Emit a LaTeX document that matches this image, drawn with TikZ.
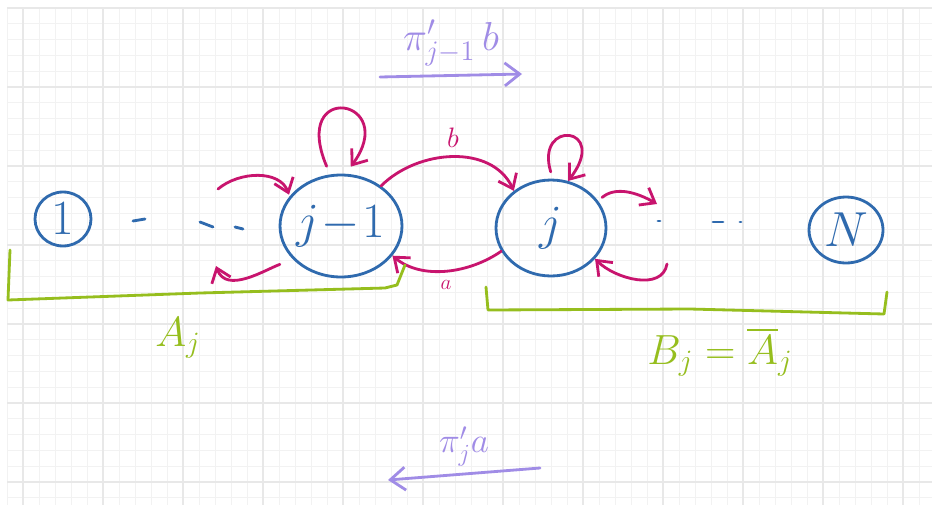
\RequirePackage{fix-cm}
\documentclass[tikz,border=0pt]{standalone}
\usepackage{amsmath,amssymb}
\usepackage{xcolor}
\usepackage{tikz}
\usetikzlibrary{arrows.meta,shapes.geometric}

\definecolor{inkblue}{HTML}{2F6AAE}
\definecolor{inkred}{HTML}{C8146E}
\definecolor{inkgreen}{HTML}{96BE1E}
\definecolor{inklilac}{HTML}{A08CE6}

\begin{document}
\begin{tikzpicture}[
  x=0.02cm,y=-0.02cm,
  state/.style={draw=inkblue,ellipse,line width=1.6pt,inner sep=0pt,text=inkblue,font=\fontsize{28}{32}\selectfont},
  arr/.style={-{Straight Barb[length=2.6mm,width=4mm]},line width=1.6pt,draw=inkred,line cap=round},
  brace/.style={draw=inkgreen,line width=1.6pt,line cap=round,line join=round},
  lilac/.style={-{Straight Barb[length=3mm,width=4.6mm]},line width=1.6pt,draw=inklilac,line cap=round},
  dashes/.style={draw=inkblue,line width=1.6pt,line cap=round},
  minor/.style={draw=black!5,line width=0.5pt},
  major/.style={draw=black!9,line width=0.9pt}
]
% squared paper
\fill[white] (0,0) rectangle (932,514);
\useasboundingbox (0,0) rectangle (932,514);
\foreach \x in {7,23,...,931} \draw[minor] (\x,8) -- (\x,505);
\foreach \y in {8,23.8,...,505} \draw[minor] (7,\y) -- (932,\y);
\foreach \x in {23,103,...,903} \draw[major] (\x,8) -- (\x,505);
\foreach \y in {8,87,...,482} \draw[major] (7,\y) -- (932,\y);

% states of the chain
\node[state,minimum width=1.12cm,minimum height=1.08cm] (one) at (63,219) {$1$};
\node[state,minimum width=2.44cm,minimum height=2.04cm] (jm1) at (341,226) {\makebox[0pt]{$j\!-\!1$}};
\node[state,minimum width=2.2cm,minimum height=1.92cm] (j) at (551,228) {$j$};
\node[state,minimum width=1.48cm,minimum height=1.32cm] (N) at (846,230) {$N$};

% the states left out
\foreach \xa/\ya/\xb/\yb in {133/221/145/219, 200/222/213/227, 235/227/243/229,
    658/221/660/221, 713/222/723/222, 740/222/741/222}
  \draw[dashes] (\xa,\ya) -- (\xb,\yb);

% free ends of the outer transitions
\coordinate (lin) at (218,189);
\coordinate (lout) at (216,266);
\coordinate (rout) at (657,204);
\coordinate (rin) at (667,264);

% transitions
\draw[arr,shorten <=5pt,shorten >=5pt] (jm1.102) .. controls +(-40,-95) and +(55,-75) .. (jm1.85);
\draw[arr,shorten <=4pt] (j.88) .. controls +(-18,-60) and +(42,-55) .. (j.70);
\draw[arr] (jm1.45) to[out=45,in=115] node[above=1pt,text=inkred,font=\fontsize{16}{18}\selectfont] {$b$} (j.135);
\draw[arr] (j.205) to[out=215,in=-40,looseness=0.9] node[below=1pt,text=inkred,font=\fontsize{12}{14}\selectfont] {$a$} (jm1.-30);
\draw[arr,shorten >=1pt] (lin) to[out=40,in=110] (jm1.150);
\draw[arr,shorten <=8pt] (jm1.215) to[out=200,in=-70] (lout);
\draw[arr,shorten <=3pt] (j.30) to[out=40,in=150] (rout);
\draw[arr] (rin) to[out=-100,in=-45] (j.-35);

% the two halves
\draw[brace] (10,250) -- (8,300) -- (200,293) -- (385,288) -- (397,285) -- (405,265);
\draw[brace] (486,287) -- (488,310) -- (690,309) -- (884,314) -- (887,292);
\node[text=inkgreen,font=\fontsize{24}{28}\selectfont] (Aj) at (178,338) {$A_j$};
\node[text=inkgreen,font=\fontsize{24}{28}\selectfont] (Bj) at (720,352) {$B_j=\overline{A}_j$};

% probability flows across the cut
\coordinate (pb0) at (380,77);
\coordinate (pb1) at (522,74);
\draw[lilac] (pb0) -- node[above=1pt,text=inklilac,font=\fontsize{23}{26}\selectfont] {$\pi'_{j-1}\,b$} (pb1);
\coordinate (pa0) at (540,468);
\coordinate (pa1) at (388,480);
\draw[lilac] (pa0) -- node[above=0pt,text=inklilac,font=\fontsize{20}{24}\selectfont] {$\pi'_j a$} (pa1);
\end{tikzpicture}
\end{document}
